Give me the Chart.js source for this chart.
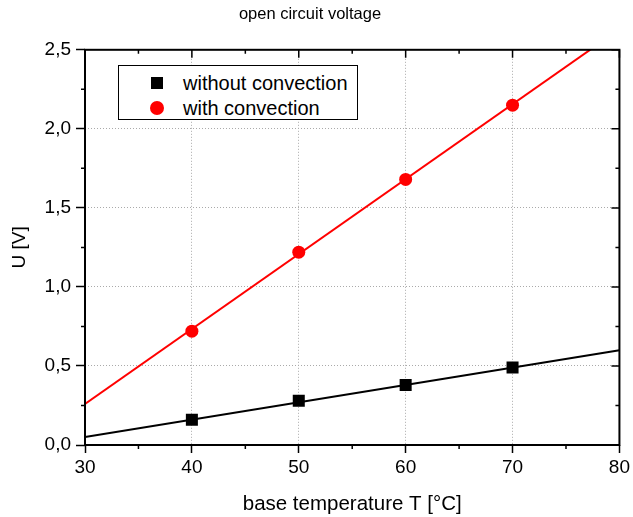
<!DOCTYPE html>
<html>
<head>
<meta charset="utf-8">
<script src="https://cdn.jsdelivr.net/npm/chart.js@4.4.0/dist/chart.umd.min.js"></script>
<style>
  body { margin: 0; background: #fff; }
  #wrap { position: relative; width: 633px; height: 517px; }
  #legend {
    position: absolute; left: 118px; top: 65px; width: 240px; height: 55px;
    border: 1px solid #000; background: #fff; box-sizing: border-box;
    font: 20px "Liberation Sans", Arial, sans-serif; color: #000;
  }
  .row { position: absolute; left: 0; height: 22px; line-height: 22px; }
  .row span.txt { position: absolute; left: 64px; white-space: nowrap; }
  .sq { position: absolute; left: 32px; top: 5px; width: 12px; height: 12px; background: #000; }
  .ci { position: absolute; left: 31px; top: 4px; width: 14px; height: 14px; border-radius: 50%; background: #ff0000; }
</style>
</head>
<body>
<div id="wrap">
  <canvas id="chart" width="633" height="517"></canvas>
  <div id="legend">
    <div class="row" style="top:6px"><div class="sq"></div><span class="txt">without convection</span></div>
    <div class="row" style="top:31px"><div class="ci"></div><span class="txt">with convection</span></div>
  </div>
</div>
<script>
const temps = [40, 50, 60, 70];
const withoutConv = [0.16, 0.28, 0.38, 0.49];
const withConv = [0.72, 1.22, 1.68, 2.15];

// linear fit lines, endpoints
const fitX = [30, 80];
const fitWithout = [0.05, 0.60];
const fitWith = [0.26, 2.63];

const fontFamily = '"Liberation Sans", Arial, sans-serif';

function pts(xs, ys) {
  return xs.map((x, i) => ({ x: x, y: ys[i] }));
}

const commaFmt = (v) => Number(v).toFixed(1).replace('.', ',');

// frame, minor ticks outside, inner ticks on top/right (Origin style)
const framePlugin = {
  id: 'frame',
  afterDraw(chart) {
    const { ctx, chartArea: a, scales } = chart;
    const xs = scales.x, ys = scales.y;
    ctx.save();
    ctx.strokeStyle = '#000';
    ctx.lineWidth = 1.5;
    ctx.beginPath();
    for (let v = 30; v <= 80; v += 5) {
      const px = xs.getPixelForValue(v);
      const major = v % 10 === 0;
      if (!major) { ctx.moveTo(px, a.bottom); ctx.lineTo(px, a.bottom + 4); }
      ctx.moveTo(px, a.top); ctx.lineTo(px, a.top + (major ? 8 : 4));
    }
    for (let i = 0; i <= 10; i++) {
      const v = i * 0.25;
      const py = ys.getPixelForValue(v);
      const major = i % 2 === 0;
      if (!major) { ctx.moveTo(a.left, py); ctx.lineTo(a.left - 4, py); }
      ctx.moveTo(a.right, py); ctx.lineTo(a.right - (major ? 8 : 4), py);
    }
    ctx.stroke();
    ctx.lineWidth = 2;
    ctx.strokeRect(a.left, a.top, a.right - a.left, a.bottom - a.top);
    ctx.restore();
  }
};

new Chart(document.getElementById('chart'), {
  type: 'scatter',
  data: {
    datasets: [
      {
        label: 'fit without convection',
        data: pts(fitX, fitWithout),
        showLine: true,
        borderColor: '#000',
        borderWidth: 2,
        pointRadius: 0,
        order: 3
      },
      {
        label: 'fit with convection',
        data: pts(fitX, fitWith),
        showLine: true,
        borderColor: '#ff0000',
        borderWidth: 2,
        pointRadius: 0,
        order: 3
      },
      {
        label: 'without convection',
        data: pts(temps, withoutConv),
        pointStyle: 'rect',
        pointRadius: 8.5,
        backgroundColor: '#000',
        borderColor: '#000',
        borderWidth: 0,
        order: 1
      },
      {
        label: 'with convection',
        data: pts(temps, withConv),
        pointStyle: 'circle',
        pointRadius: 6.5,
        backgroundColor: '#ff0000',
        borderColor: '#ff0000',
        borderWidth: 0,
        order: 1
      }
    ]
  },
  options: {
    responsive: false,
    animation: false,
    layout: { padding: { left: 0, right: 13, top: 0, bottom: 0 } },
    plugins: {
      legend: { display: false },
      tooltip: { enabled: false },
      title: {
        display: true,
        text: 'open circuit voltage',
        color: '#000',
        font: { family: fontFamily, size: 16.5, weight: 'normal' },
        padding: { top: 5, bottom: 25 }
      }
    },
    scales: {
      x: {
        type: 'linear',
        min: 30, max: 80,
        afterFit(s) { s.height = 72; },
        ticks: {
          stepSize: 10,
          color: '#000',
          font: { family: fontFamily, size: 19 },
          padding: 3
        },
        grid: {
          color: '#aaaaaa',
          lineWidth: 1,
          tickColor: '#000',
          tickLength: 8,
          tickWidth: 1.5
        },
        border: { display: false, dash: [1, 2] },
        title: {
          display: true,
          text: 'base temperature T [°C]',
          color: '#000',
          font: { family: fontFamily, size: 20.5 },
          padding: { top: 2, bottom: 0 }
        }
      },
      y: {
        min: 0, max: 2.5,
        afterFit(s) { s.width = 85; },
        ticks: {
          stepSize: 0.5,
          color: '#000',
          font: { family: fontFamily, size: 19 },
          padding: 5,
          callback: (v) => commaFmt(v)
        },
        grid: {
          color: '#aaaaaa',
          lineWidth: 1,
          tickColor: '#000',
          tickLength: 9,
          tickWidth: 1.5
        },
        border: { display: false, dash: [1, 2] },
        title: {
          display: true,
          text: 'U [V]',
          color: '#000',
          font: { family: fontFamily, size: 19 },
          padding: { top: 8, bottom: 0 }
        }
      }
    }
  },
  plugins: [framePlugin]
});
</script>
</body>
</html>
